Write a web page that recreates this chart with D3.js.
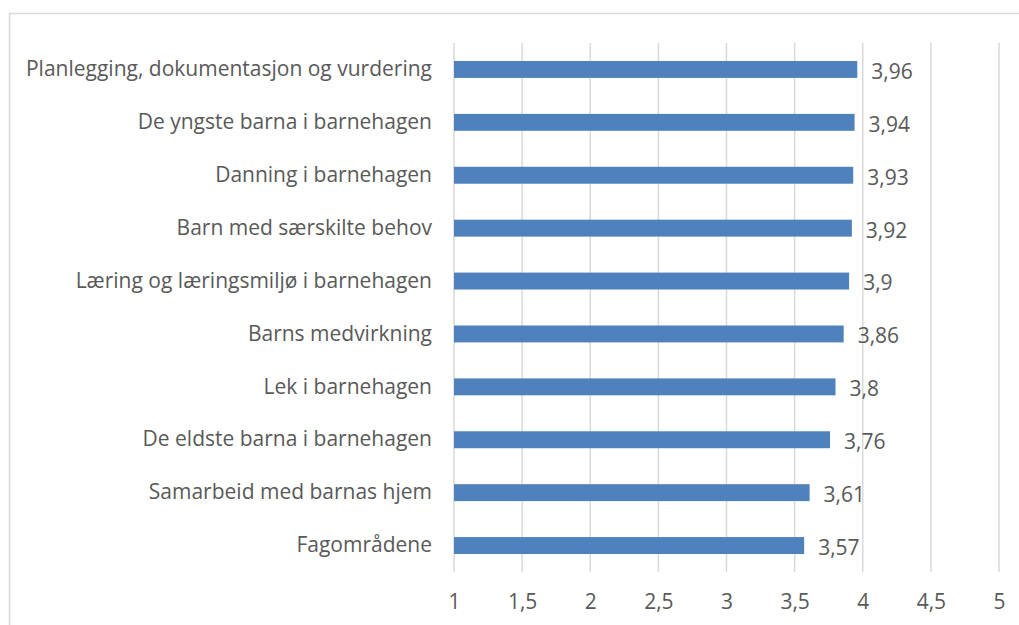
<html>
<head>
<meta charset="utf-8">
<style>
  body { margin: 0; background: #fff; }
  text { font-family: "Open Sans", sans-serif; fill: #595959; }
</style>
</head>
<body>
<script src="https://d3js.org/d3.v7.min.js"></script>
<script>
var categories = [
  "Planlegging, dokumentasjon og vurdering",
  "De yngste barna i barnehagen",
  "Danning i barnehagen",
  "Barn med særskilte behov",
  "Læring og læringsmiljø i barnehagen",
  "Barns medvirkning",
  "Lek i barnehagen",
  "De eldste barna i barnehagen",
  "Samarbeid med barnas hjem",
  "Fagområdene"
];
var values = [3.96, 3.94, 3.93, 3.92, 3.9, 3.86, 3.8, 3.76, 3.61, 3.57];
var ticks = [1, 1.5, 2, 2.5, 3, 3.5, 4, 4.5, 5];

var width = 1019, height = 625;
var fmt = function(v){ return String(v).replace(".", ","); };

var svg = d3.select("body").append("svg").attr("width", width).attr("height", height);

// chart border
svg.append("rect")
  .attr("x", 9.5).attr("y", 13.5)
  .attr("width", 1030).attr("height", 640)
  .attr("fill", "none").attr("stroke", "#d9d9d9").attr("stroke-width", 1.5);

var x = d3.scaleLinear().domain([1, 5]).range([454, 999]);
var y = d3.scaleBand().domain(categories).range([43, 572]).paddingInner(0.68).paddingOuter(0.34);

// gridlines
svg.append("g").selectAll("line")
  .data(ticks)
  .enter()
  .append("line")
  .attr("x1", function(d){ return x(d); })
  .attr("x2", function(d){ return x(d); })
  .attr("y1", 43).attr("y2", 572)
  .attr("stroke", "#d9d9d9").attr("stroke-width", 1.5);

// bars
svg.append("g").selectAll("rect")
  .data(values)
  .enter()
  .append("rect")
  .attr("x", x(1))
  .attr("y", function(d, i){ return y(categories[i]); })
  .attr("width", function(d){ return x(d) - x(1); })
  .attr("height", y.bandwidth())
  .attr("fill", "#4f81bd");

// value labels
svg.append("g").selectAll("text")
  .data(values)
  .enter()
  .append("text")
  .attr("x", function(d){ return x(d) + 14; })
  .attr("y", function(d, i){ return y(categories[i]) + y.bandwidth() / 2 + 2; })
  .attr("dy", "0.35em")
  .attr("font-size", "21px")
  .text(fmt);

// category labels
var yAxis = d3.axisLeft(y).tickSize(0).tickPadding(0);
svg.append("g")
  .attr("transform", "translate(432,0)")
  .call(yAxis)
  .call(function(g){ g.select(".domain").remove(); })
  .selectAll("text")
  .attr("font-size", "21px")
  .attr("font-family", null)
  .attr("fill", null);

// x axis labels
var xAxis = d3.axisBottom(x).tickValues(ticks).tickSize(0).tickPadding(0).tickFormat(fmt);
svg.append("g")
  .attr("transform", "translate(0,594)")
  .call(xAxis)
  .call(function(g){ g.select(".domain").remove(); })
  .selectAll("text")
  .attr("font-size", "21px")
  .attr("font-family", null)
  .attr("fill", null);
</script>
</body>
</html>
